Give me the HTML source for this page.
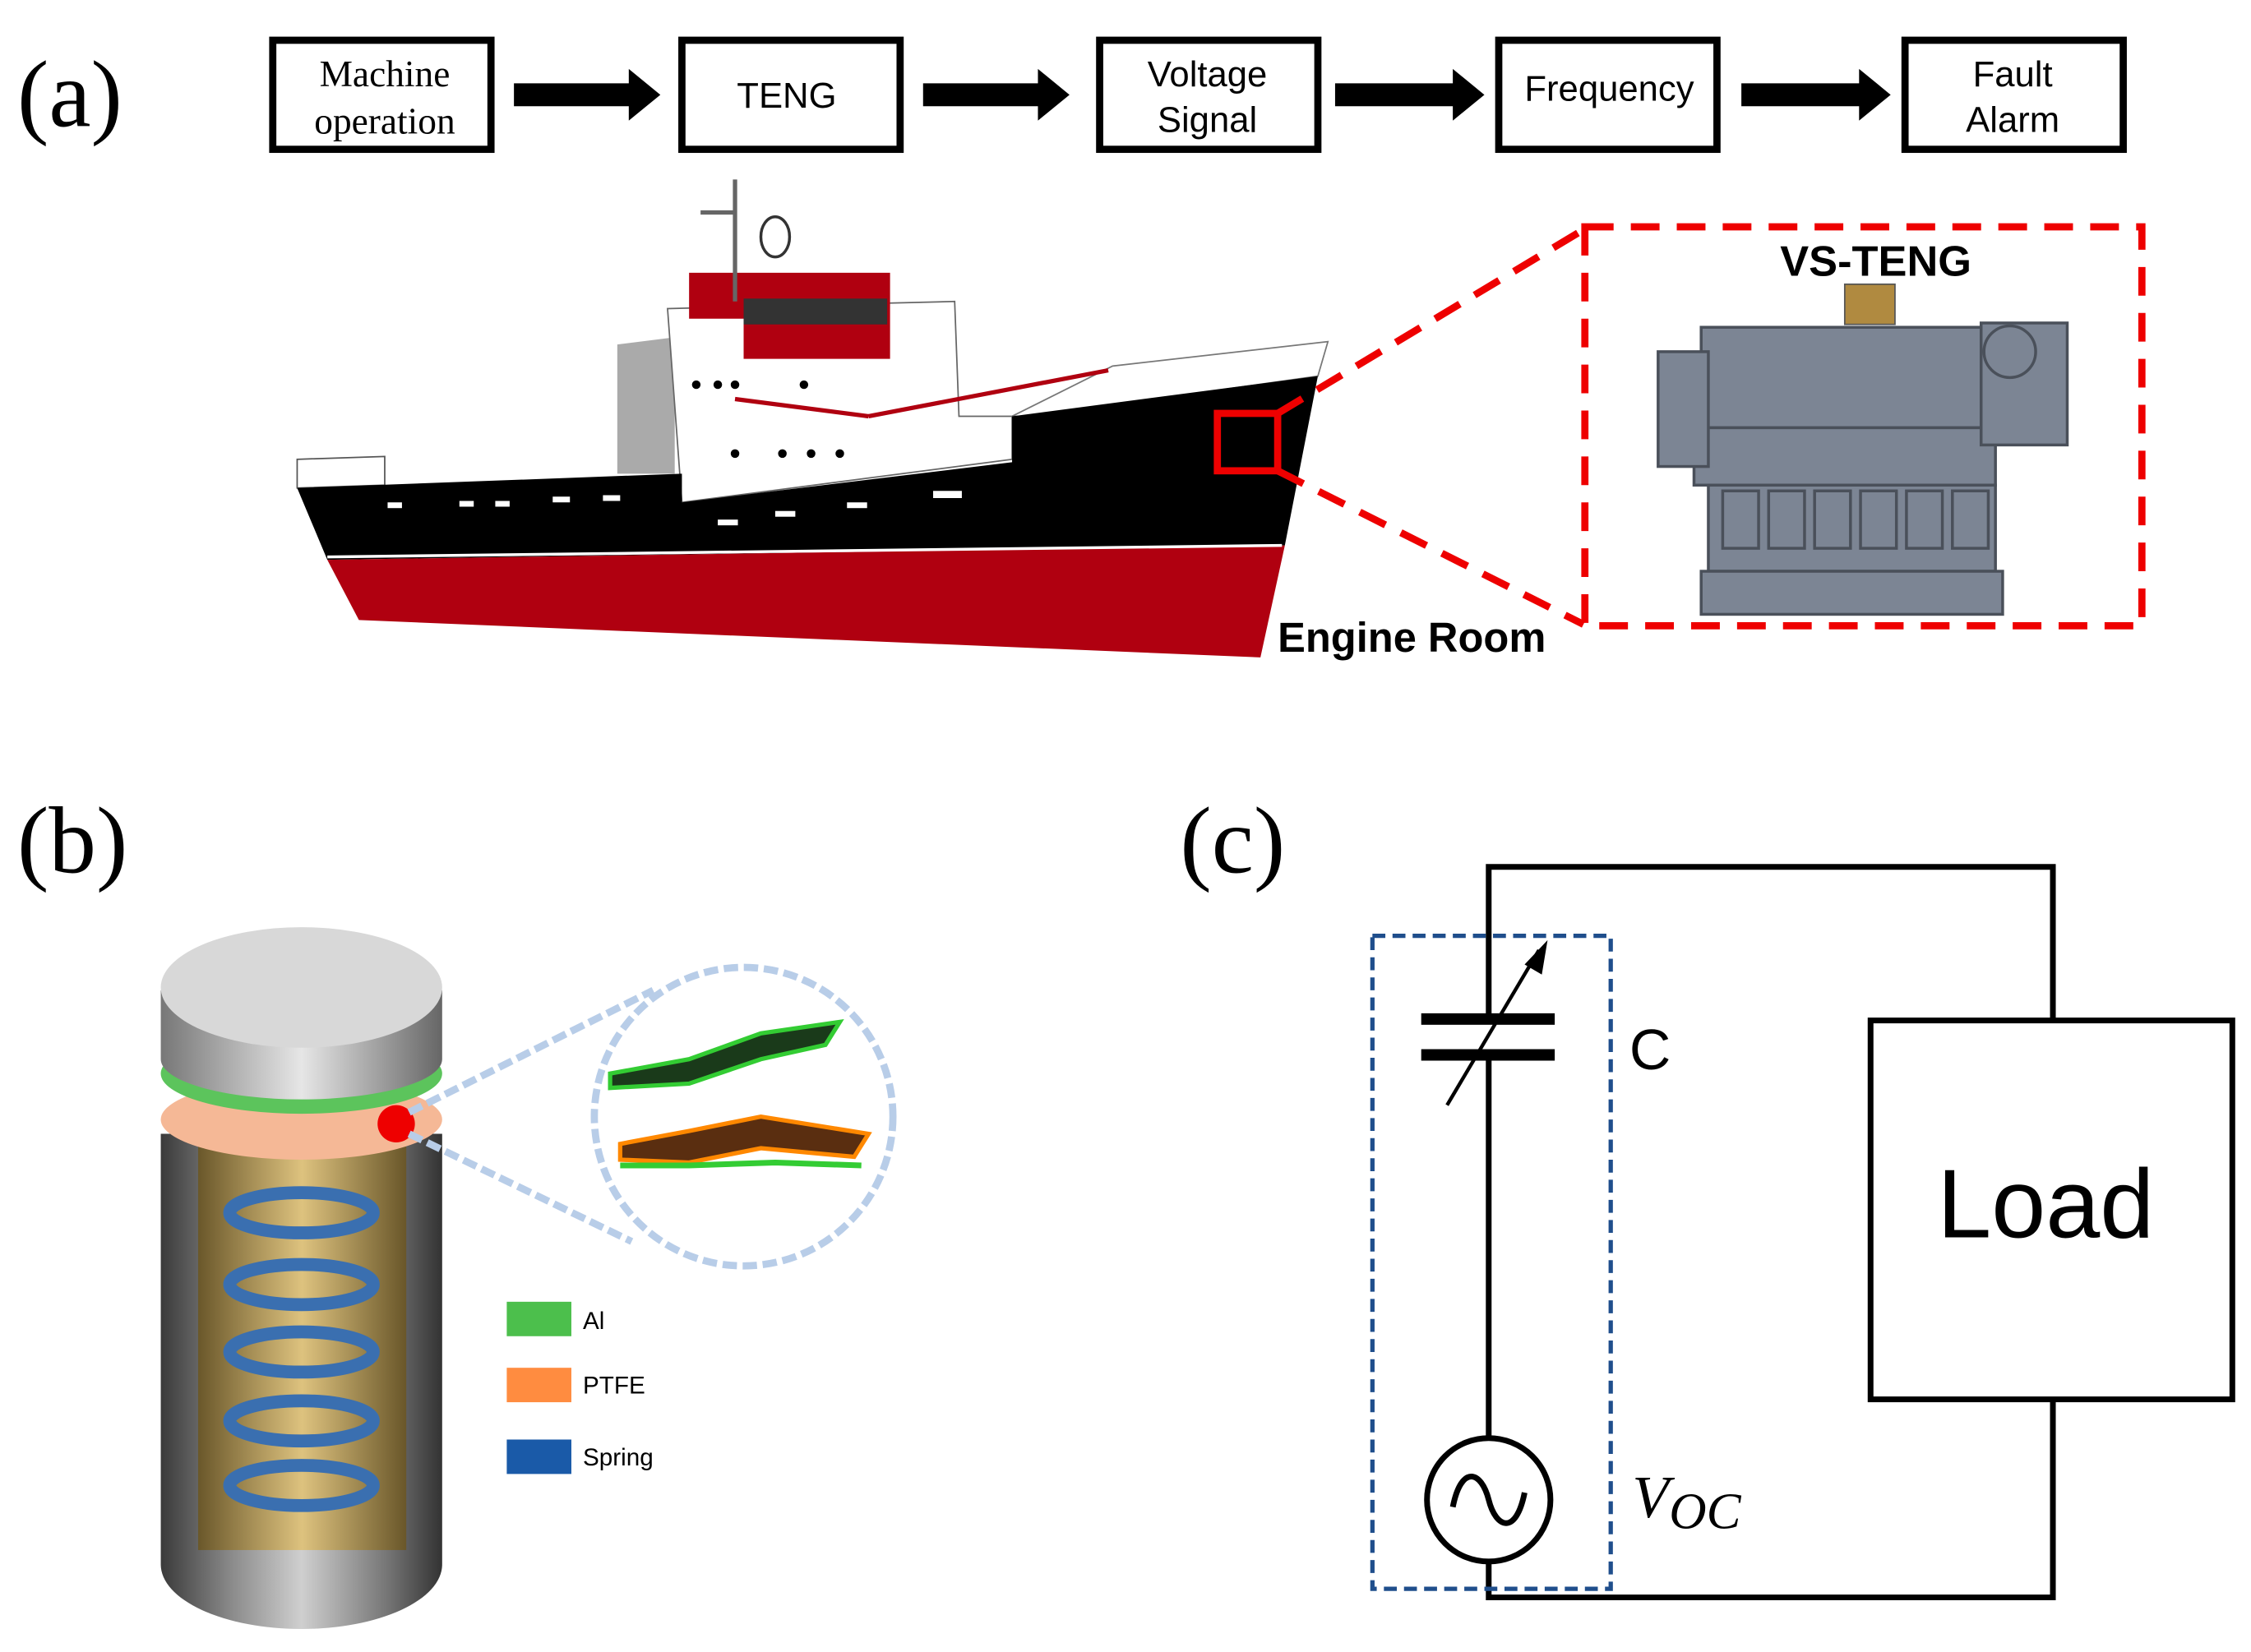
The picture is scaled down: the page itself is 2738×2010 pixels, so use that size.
<!DOCTYPE html>
<html><head><meta charset="utf-8"><style>
html,body{margin:0;padding:0;background:#fff}
svg{display:block}
</style></head><body>
<svg width="2738" height="2010" viewBox="0 0 1568 1151" xmlns="http://www.w3.org/2000/svg">
<defs>
<linearGradient id="cyl" x1="0" x2="1"><stop offset="0" stop-color="#3a3a3a"/><stop offset=".25" stop-color="#8a8a8a"/><stop offset=".5" stop-color="#cfcfcf"/><stop offset=".8" stop-color="#777"/><stop offset="1" stop-color="#333"/></linearGradient>
<linearGradient id="gold" x1="0" x2="1"><stop offset="0" stop-color="#6b5520"/><stop offset=".5" stop-color="#e0c070"/><stop offset="1" stop-color="#6b5520"/></linearGradient>
<linearGradient id="cap" x1="0" x2="1"><stop offset="0" stop-color="#777"/><stop offset=".5" stop-color="#e6e6e6"/><stop offset="1" stop-color="#666"/></linearGradient>
</defs>
<g font-family="Liberation Serif, serif" font-size="66"><text x="12" y="88">(a)</text><text x="12" y="608">(b)</text><text x="822" y="608">(c)</text></g>
<g fill="none" stroke="#000" stroke-width="5">
<rect x="190" y="28" width="152" height="76"/><rect x="475" y="28" width="152" height="76"/><rect x="766" y="28" width="152" height="76"/><rect x="1044" y="28" width="152" height="76"/><rect x="1327" y="28" width="152" height="76"/>
</g>
<g fill="#000">
<polygon points="358,58 438,58 438,48 460,66 438,84 438,74 358,74"/>
<polygon points="643,58 723,58 723,48 745,66 723,84 723,74 643,74"/>
<polygon points="930,58 1012,58 1012,48 1034,66 1012,84 1012,74 930,74"/>
<polygon points="1213,58 1295,58 1295,48 1317,66 1295,84 1295,74 1213,74"/>
</g>
<g text-anchor="middle" font-size="25">
<text x="268" y="60" font-family="Liberation Serif, serif" font-size="26">Machine</text><text x="268" y="93" font-family="Liberation Serif, serif" font-size="26">operation</text>
<g font-family="Liberation Sans, sans-serif"><text x="548" y="75">TENG</text><text x="841" y="60">Voltage</text><text x="841" y="92">Signal</text><text x="1121" y="70">Frequency</text><text x="1402" y="60">Fault</text><text x="1402" y="92">Alarm</text></g>
</g>
<!-- ship -->
<polygon points="207,320 268,318 268,338 207,340" fill="#fff" stroke="#555"/>
<polygon points="430,240 470,235 470,330 430,330" fill="#aaa"/>
<polygon points="465,215 665,210 668,290 705,290 705,320 475,350" fill="#fff" stroke="#666"/>
<polygon points="480,190 620,190 620,250 518,250 518,222 480,222" fill="#b00010"/>
<rect x="518" y="208" width="100" height="18" fill="#333"/>
<line x1="512" y1="125" x2="512" y2="210" stroke="#666" stroke-width="3"/>
<line x1="488" y1="148" x2="512" y2="148" stroke="#666" stroke-width="3"/>
<ellipse cx="540" cy="165" rx="10" ry="14" fill="none" stroke="#333" stroke-width="2"/>
<polygon points="705,290 775,255 925,238 918,262 720,290" fill="#fff" stroke="#777"/>
<polygon points="207,340 475,330 475,350 705,322 705,290 918,262 895,380 228,390" fill="#000"/>
<polygon points="228,390 895,380 878,458 250,432" fill="#b00010"/>
<line x1="228" y1="388" x2="893" y2="380" stroke="#fff" stroke-width="2"/>
<line x1="512" y1="278" x2="605" y2="290" stroke="#b00010" stroke-width="3"/><line x1="605" y1="290" x2="772" y2="258" stroke="#b00010" stroke-width="3"/>
<g fill="#fff"><rect x="270" y="350" width="10" height="4"/><rect x="320" y="349" width="10" height="4"/><rect x="345" y="349" width="10" height="4"/><rect x="385" y="346" width="12" height="4"/><rect x="420" y="345" width="12" height="4"/><rect x="500" y="362" width="14" height="4"/><rect x="540" y="356" width="14" height="4"/><rect x="590" y="350" width="14" height="4"/><rect x="650" y="342" width="20" height="5"/></g>
<g fill="#000"><circle cx="485" cy="268" r="3"/><circle cx="500" cy="268" r="3"/><circle cx="512" cy="268" r="3"/><circle cx="560" cy="268" r="3"/><circle cx="512" cy="316" r="3"/><circle cx="545" cy="316" r="3"/><circle cx="565" cy="316" r="3"/><circle cx="585" cy="316" r="3"/></g>
<rect x="848" y="288" width="42" height="40" fill="none" stroke="#e00" stroke-width="5"/>
<g stroke="#e00" stroke-width="5" fill="none" stroke-dasharray="20,12">
<line x1="890" y1="288" x2="1103" y2="160"/><line x1="890" y1="328" x2="1103" y2="435"/>
<rect x="1104" y="158" width="388" height="278"/>
</g>
<text x="1240" y="192" font-family="Liberation Sans, sans-serif" font-weight="bold" font-size="30">VS-TENG</text>
<text x="890" y="454" font-family="Liberation Sans, sans-serif" font-weight="bold" font-size="29">Engine Room</text>
<!-- engine -->
<g fill="#7c8594" stroke="#4a505a" stroke-width="2">
<rect x="1185" y="228" width="200" height="70"/>
<rect x="1180" y="298" width="210" height="40"/>
<rect x="1190" y="338" width="200" height="60"/>
<rect x="1185" y="398" width="210" height="30"/>
<rect x="1155" y="245" width="35" height="80"/>
<rect x="1380" y="225" width="60" height="85"/>
<circle cx="1400" cy="245" r="18"/>
</g>
<g fill="none" stroke="#4a505a" stroke-width="2"><rect x="1200" y="342" width="25" height="40"/><rect x="1232" y="342" width="25" height="40"/><rect x="1264" y="342" width="25" height="40"/><rect x="1296" y="342" width="25" height="40"/><rect x="1328" y="342" width="25" height="40"/><rect x="1360" y="342" width="25" height="40"/></g>
<rect x="1285" y="198" width="35" height="28" fill="#b08a40" stroke="#555"/>
<!-- cylinder -->
<path d="M112,790 L112,1090 A98,45 0 0 0 308,1090 L308,790 Z" fill="url(#cyl)"/>
<rect x="138" y="790" width="145" height="290" fill="url(#gold)" opacity=".85"/>
<ellipse cx="210" cy="780" rx="98" ry="28" fill="#f5b896"/>
<ellipse cx="210" cy="748" rx="98" ry="28" fill="#5cc45c"/>
<path d="M112,690 L112,738 A98,28 0 0 0 308,738 L308,690 Z" fill="url(#cap)"/>
<ellipse cx="210" cy="688" rx="98" ry="42" fill="#d8d8d8"/>
<g fill="none" stroke="#3a6fb0" stroke-width="9">
<ellipse cx="210" cy="845" rx="50" ry="14"/><ellipse cx="210" cy="895" rx="50" ry="14"/><ellipse cx="210" cy="942" rx="50" ry="14"/><ellipse cx="210" cy="990" rx="50" ry="14"/><ellipse cx="210" cy="1035" rx="50" ry="14"/>
</g>
<circle cx="276" cy="783" r="13" fill="#e00"/>
<g stroke="#b8cde8" stroke-width="5" fill="none" stroke-dasharray="10,4">
<circle cx="518" cy="778" r="104"/>
<line x1="285" y1="775" x2="455" y2="690"/><line x1="285" y1="790" x2="440" y2="865"/>
</g>
<path d="M425,748 L480,738 L530,720 L585,712 L575,728 L530,738 L480,755 L425,758Z" fill="#1a3a1a" stroke="#3c3" stroke-width="3"/>
<path d="M432,797 L480,788 L530,778 L605,790 L595,806 L530,800 L480,810 L432,808Z" fill="#5a2e10" stroke="#f80" stroke-width="3"/>
<path d="M432,812 L480,812 L540,810 L600,812" stroke="#3c3" stroke-width="4" fill="none"/>
<rect x="353" y="907" width="45" height="24" fill="#4cbf4c"/>
<rect x="353" y="953" width="45" height="24" fill="#ff8c40"/>
<rect x="353" y="1003" width="45" height="24" fill="#1a5aa8"/>
<g font-family="Liberation Sans, sans-serif" font-size="17"><text x="406" y="926">Al</text><text x="406" y="971">PTFE</text><text x="406" y="1021">Spring</text></g>
<!-- circuit -->
<g stroke="#000" stroke-width="4" fill="none">
<polyline points="1037,710 1037,604 1430,604 1430,711"/>
<polyline points="1430,975 1430,1113 1037,1113 1037,1088"/>
<line x1="1037" y1="735" x2="1037" y2="1002"/>
<rect x="1303" y="711" width="252" height="264"/>
<circle cx="1037" cy="1045" r="43"/>
<path d="M1012,1050 C1018,1020 1032,1025 1037,1045 C1042,1065 1056,1070 1062,1040"/>
<line x1="1008" y1="770" x2="1072" y2="662" stroke-width="2.5"/>
</g>
<rect x="990" y="706" width="93" height="8" fill="#000"/><rect x="990" y="731" width="93" height="8" fill="#000"/>
<polygon points="1078,655 1062,672 1074,679" fill="#000"/>
<rect x="956" y="652" width="166" height="455" fill="none" stroke="#1f4e8c" stroke-width="3" stroke-dasharray="9,5"/>
<text x="1135" y="745" font-family="Liberation Sans, sans-serif" font-size="40">C</text>
<text x="1137" y="1057" font-family="Liberation Serif, serif" font-style="italic" font-size="42">V<tspan font-size="36" dy="8">OC</tspan></text>
<text x="1425" y="862" text-anchor="middle" font-family="Liberation Sans, sans-serif" font-size="68">Load</text>
</svg>
</body></html>
